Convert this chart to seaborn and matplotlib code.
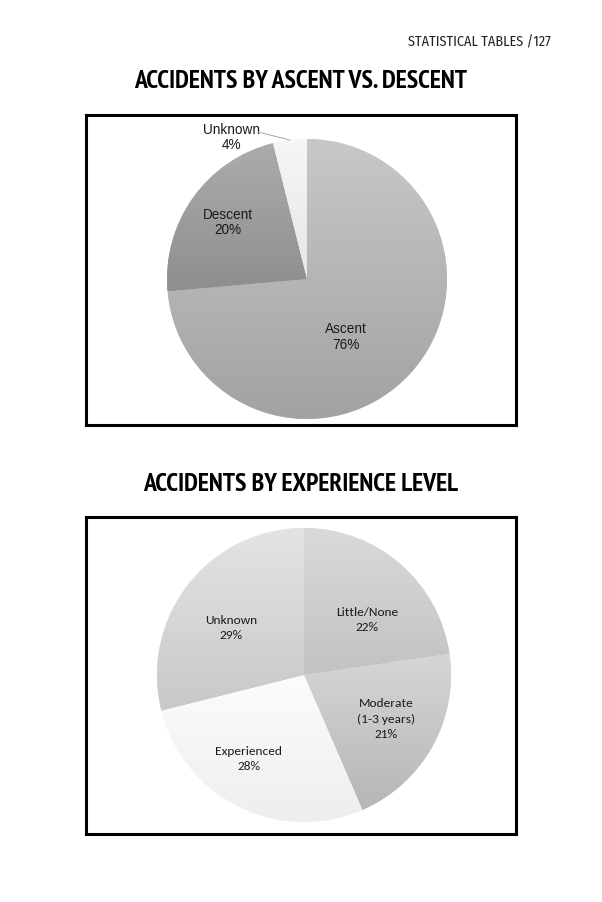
import numpy as np
import matplotlib
matplotlib.use("Agg")
import matplotlib.pyplot as plt
from matplotlib.colors import LinearSegmentedColormap
import seaborn as sns

# ---- data ----
ascent_categories = ["Ascent", "Descent", "Unknown"]
ascent_values = [73.6, 22.5, 3.9]          # wedge sizes as drawn
ascent_pct_labels = ["76%", "20%", "4%"]   # printed labels

exp_categories = ["Little/None", "Moderate\n(1-3 years)", "Experienced", "Unknown"]
exp_values = [22.7, 20.8, 27.6, 28.9]
exp_pct_labels = ["22%", "21%", "28%", "29%"]

header_text = "STATISTICAL TABLES /127"
title1 = "ACCIDENTS BY ASCENT VS. DESCENT"
title2 = "ACCIDENTS BY EXPERIENCE LEVEL"

# ---- style ----
sns.set_theme(style="white")
plt.rcParams['font.family'] = ['Liberation Sans', 'DejaVu Sans']
TITLE_FONT = ['PT Sans Narrow', 'DejaVu Sans']
HEADER_FONT = ['Fira Sans Condensed', 'DejaVu Sans']
PIE2_FONT = ['Carlito', 'DejaVu Sans']

W, H = 602, 903
fig = plt.figure(figsize=(W / 100, H / 100), dpi=100)
fig.patch.set_facecolor("white")

def px_axes(x0, y0, x1, y1):
    return fig.add_axes([x0 / W, 1 - y1 / H, (x1 - x0) / W, (y1 - y0) / H])

def gradient_pie(ax, values, grads, center, radius, startangle):
    wedges, _ = ax.pie(values, colors=[g[0] for g in grads], startangle=startangle,
                       counterclock=False, center=center, radius=radius,
                       wedgeprops=dict(linewidth=0))
    for w, (top, bot) in zip(wedges, grads):
        bb = w.get_path().get_extents(w.get_transform() - ax.transData)
        cmap = LinearSegmentedColormap.from_list("g", [bot, top])
        grad = np.linspace(0, 1, 256).reshape(-1, 1)
        im = ax.imshow(grad, cmap=cmap, origin="lower", aspect="auto",
                       extent=[bb.x0, bb.x1, bb.y0, bb.y1], zorder=w.get_zorder() + 0.1)
        im.set_clip_path(w)
    return wedges

def frame(ax, w, h):
    ax.set_xlim(0, w)
    ax.set_ylim(0, h)
    ax.set_aspect("auto")
    ax.set_axis_on()
    ax.set_frame_on(True)
    ax.set_xticks([])
    ax.set_yticks([])
    for s in ax.spines.values():
        s.set_visible(True)
        s.set_color("black")
        s.set_linewidth(2.2)
        s.set_zorder(10)

# header
fig.text(551 / W, 1 - 42 / H, header_text, ha="right", va="center",
         fontsize=10.2, family=HEADER_FONT, fontweight="normal", color="#222222")

# titles
fig.text(301 / W, 1 - 82 / H, title1, ha="center", va="center", fontsize=18.5,
         fontweight="bold", family=TITLE_FONT, color="black")
fig.text(301 / W, 1 - 485 / H, title2, ha="center", va="center", fontsize=18.5,
         fontweight="bold", family=TITLE_FONT, color="black")

# ---- chart 1 ----
bx0, by0, bx1, by1 = 86, 116, 516, 426
ax1 = px_axes(bx0, by0, bx1, by1)
grads1 = [("#c8c8c8", "#a2a2a2"), ("#acacac", "#8e8e8e"), ("#f6f6f6", "#e6e6e6")]
gradient_pie(ax1, ascent_values, grads1, center=(307 - bx0, by1 - 280), radius=140, startangle=90)
frame(ax1, bx1 - bx0, by1 - by0)
lab1_pos = [(346, 337), (228, 222.5), (232, 137.5)]
for (x, y), cat, pct in zip(lab1_pos, ascent_categories, ascent_pct_labels):
    ax1.text(x - bx0, by1 - y, f"{cat}\n{pct}", ha="center", va="center",
             fontsize=9.8, color="#1a1a1a", linespacing=1.1)
ax1.plot([258 - bx0, 290 - bx0], [by1 - 133, by1 - 141], color="#b0b0b0", lw=0.8, zorder=5)

# ---- chart 2 ----
cx0, cy0, cx1, cy1 = 86, 518, 516, 835
ax2 = px_axes(cx0, cy0, cx1, cy1)
grads2 = [("#dadada", "#c2c2c2"), ("#d6d6d6", "#b6b6b6"), ("#fcfcfc", "#eeeeee"), ("#e4e4e4", "#c8c8c8")]
gradient_pie(ax2, exp_values, grads2, center=(304 - cx0, cy1 - 676), radius=147, startangle=90)
frame(ax2, cx1 - cx0, cy1 - cy0)
lab2_pos = [(367, 620), (386, 719), (249, 759), (231, 628)]
for (x, y), cat, pct in zip(lab2_pos, exp_categories, exp_pct_labels):
    ax2.text(x - cx0, cy1 - y, f"{cat}\n{pct}", ha="center", va="center",
             fontsize=9.6, color="#1a1a1a", linespacing=1.45, family=PIE2_FONT)

fig.savefig("out.png", dpi=100, facecolor="white")
